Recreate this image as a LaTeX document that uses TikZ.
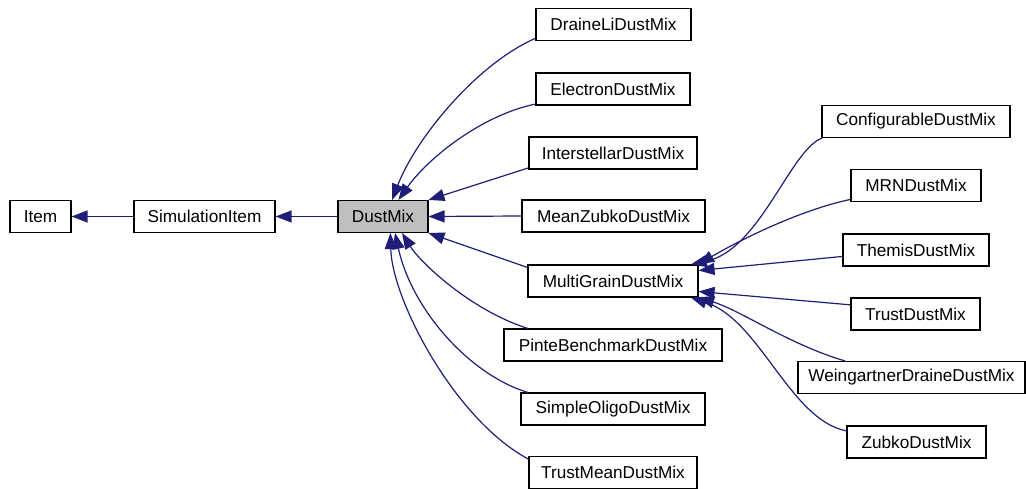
\documentclass[tikz,border=0pt]{standalone}
\usepackage{fontspec}
\setmainfont{Liberation Sans}
\usetikzlibrary{arrows.meta}
\definecolor{edgeblue}{HTML}{1E1E78}
\definecolor{basefill}{HTML}{BFBFBF}

\begin{document}
\begin{tikzpicture}[x=1pt,y=-1pt,
  cls/.style={draw=black, line width=1.1pt, minimum height=32pt, inner sep=0pt,
              fill=white, font=\fontsize{17.2}{20}\selectfont},
  inh/.style={draw=edgeblue, line width=1.2pt,
              -{Triangle[length=16pt,width=12pt]}},
]
\useasboundingbox (0,0) rectangle (1026,489);

% class boxes
\node[cls, minimum width=61pt]  (item) at (40.5,216.5) {Item};
\node[cls, minimum width=141pt] (sim)  at (204.5,216.5) {SimulationItem};
\node[cls, minimum width=90pt, fill=basefill] (dm) at (383,216.5) {DustMix};

\node[cls, minimum width=155pt] (dl)  at (613.5,24.5) {DraineLiDustMix};
\node[cls, minimum width=154pt] (el)  at (613,89)     {ElectronDustMix};
\node[cls, minimum width=168pt] (ist) at (613,153)    {InterstellarDustMix};
\node[cls, minimum width=183pt] (mz)  at (613.5,216)  {MeanZubkoDustMix};
\node[cls, minimum width=170pt] (mg)  at (613,281)    {MultiGrainDustMix};
\node[cls, minimum width=218pt] (pb)  at (613,345)    {PinteBenchmarkDustMix};
\node[cls, minimum width=184pt] (so)  at (613,409)    {SimpleOligoDustMix};
\node[cls, minimum width=168pt] (tm)  at (613,472.5)  {TrustMeanDustMix};

\node[cls, minimum width=188pt] (cf)  at (916,121.5)  {ConfigurableDustMix};
\node[cls, minimum width=130pt] (mrn) at (916,185.5)  {MRNDustMix};
\node[cls, minimum width=146pt] (th)  at (916,250)    {ThemisDustMix};
\node[cls, minimum width=129pt] (tr)  at (915.5,314)  {TrustDustMix};
\node[cls, minimum width=227pt] (wd)  at (911.5,377.5) {WeingartnerDraineDustMix};
\node[cls, minimum width=139pt] (zb)  at (916.5,442)  {ZubkoDustMix};

% inheritance arrows
\draw[inh] (sim.west) -- (item.east);
\draw[inh] (dm.west) -- (sim.east);

\draw[inh] (dl.190) .. controls (475,65) and (415,140) .. (dm.61);
\draw[inh] (el.191) .. controls (482,115) and (428,158) .. (dm.47);
\draw[inh] (ist.190) -- (dm.20);
\draw[inh] (mz.west) -- (dm.east);
\draw[inh] (mg.171) -- (dm.-20);
\draw[inh] (pb.169.5) .. controls (470,310) and (420,262) .. (dm.-41);
\draw[inh] (so.169.3) .. controls (470,375) and (412,310) .. (dm.-54);
\draw[inh] (tm.171.5) .. controls (455,420) and (392,300) .. (dm.-66);

\draw[inh] (cf.190.2) .. controls (790,150) and (760,250) .. (mg.12);
\draw[inh] (mrn.192) .. controls (800,210) and (740,240) .. (mg.11);
\draw[inh] (th.185.5) -- (mg.7);
\draw[inh] (tr.172) -- (mg.-7);
\draw[inh] (wd.166.9) .. controls (790,345) and (740,310) .. (mg.-11);
\draw[inh] (zb.171.8) .. controls (790,420) and (760,320) .. (mg.-12);
\end{tikzpicture}
\end{document}
